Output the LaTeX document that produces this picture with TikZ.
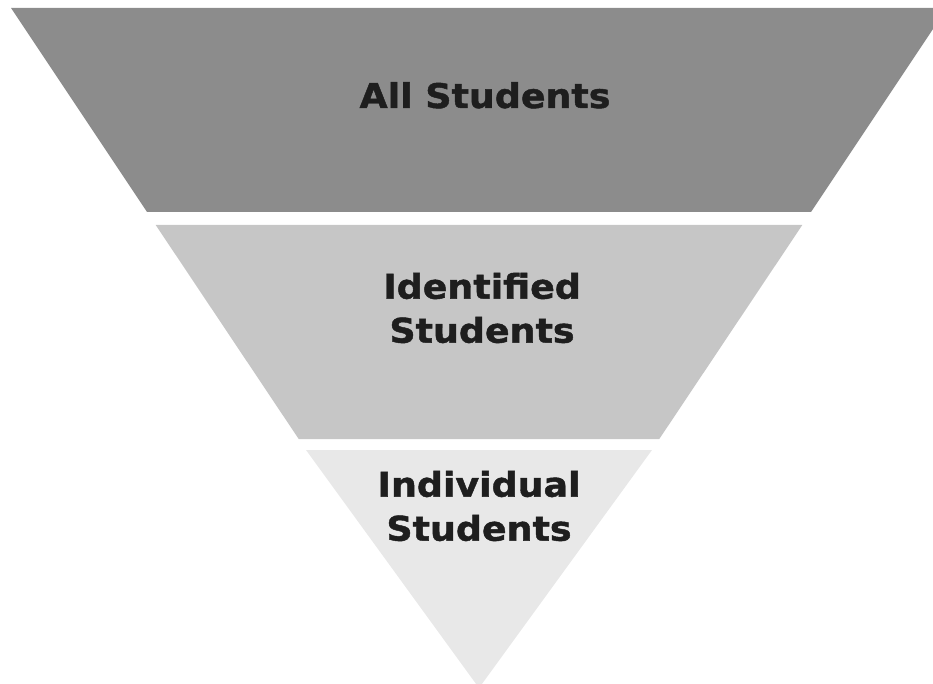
\documentclass[tikz,border=0pt]{standalone}
\usepackage{fontspec}
\newfontfamily\labelfont[FakeStretch=1.07,FakeBold=1.3]{DejaVu Sans Bold}
\definecolor{banddark}{HTML}{8C8C8C}
\definecolor{bandmid}{HTML}{C6C6C6}
\definecolor{bandlight}{HTML}{E8E8E8}
\definecolor{labelink}{HTML}{1E1E1E}
\begin{document}
\begin{tikzpicture}[x=1pt,y=-1pt,
  bandlabel/.style={font=\labelfont\fontsize{34}{44}\selectfont, text=labelink, align=center, inner sep=0pt}]
\useasboundingbox (0,0) rectangle (933,684);
\clip (0,0) rectangle (933,684);
\fill[banddark]  (11,8) -- (947,8) -- (811,212) -- (147,212) -- cycle;
\fill[bandmid]   (155.7,225) -- (802.3,225) -- (659.3,439) -- (298.7,439) -- cycle;
\fill[bandlight] (306,450) -- (652,450) -- (479,688) -- cycle;
\node[bandlabel, anchor=base] (all) at (485,108) {All Students};
\node[bandlabel] (identified) at (482,308) {Identified\\Students};
\node[bandlabel] (individual) at (479,506) {Individual\\Students};
\end{tikzpicture}
\end{document}
